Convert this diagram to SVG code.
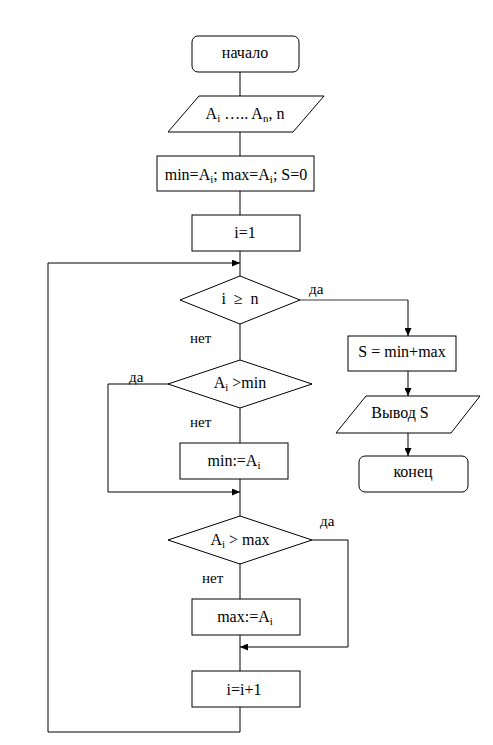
<svg xmlns="http://www.w3.org/2000/svg" width="493" height="745" viewBox="0 0 493 745">
<style>
.s{fill:#fff;stroke:#000;stroke-width:1}
.t{font-family:'Liberation Serif','Times New Roman',serif;font-size:16px;fill:#000;text-anchor:middle}
.l{font-family:'Liberation Serif','Times New Roman',serif;font-size:15px;fill:#000}
.sub{font-size:11px}
.c{fill:none;stroke:#000;stroke-width:1}
.g{fill:none;stroke:#7a7a7a;stroke-width:1.4}
</style>
<defs>
<marker id="ar" markerWidth="9" markerHeight="7" refX="8" refY="3.5" orient="auto" markerUnits="userSpaceOnUse">
<path d="M0,0 L8,3.5 L0,7 z" fill="#000"/>
</marker>
</defs>
<rect width="493" height="745" fill="#fff"/>
<g font-family="'Liberation Serif', 'Times New Roman', serif">
<g id="connectors">
<path class="c" d="M240,72 V96"/>
<path class="c" d="M240,132 V156"/>
<path class="c" d="M240,191 V215"/>
<path class="c" d="M240,251 V276"/>
<path class="c" d="M240,324 V360"/>
<path class="c" d="M240,408 V443"/>
<path class="c" d="M240,479 V516"/>
<path class="c" d="M240,563 V599"/>
<path class="c" d="M240,635 V671"/>
<path class="c" d="M240,707 V732 H48 V263 H240" marker-end="url(#ar)"/>
<path class="g" d="M300,300 H408"/>
<path class="c" d="M408,300 V336" marker-end="url(#ar)"/>
<path class="c" d="M408,371 V396" marker-end="url(#ar)"/>
<path class="c" d="M408,433 V456" marker-end="url(#ar)"/>
<path class="c" d="M168,384 H108 V492 H240" marker-end="url(#ar)"/>
<path class="c" d="M312,540 H348 V647 H240" marker-end="url(#ar)"/>
</g>
<g id="start">
<rect class="s" x="192" y="36" width="107" height="36" rx="6"/>
<text class="t" x="245" y="58">начало</text>
</g>
<g id="input">
<polygon class="s" points="199,96 324,96 293,132 168,132"/>
<text class="t" x="245" y="119">A<tspan class="sub" dy="3">i</tspan><tspan dy="-3"> ….. A</tspan><tspan class="sub" dy="3">n</tspan><tspan dy="-3">, n</tspan></text>
</g>
<g id="init">
<rect class="s" x="157" y="156" width="157" height="35"/>
<text class="t" x="236" y="180">min=A<tspan class="sub" dy="3">i</tspan><tspan dy="-3">; max=A</tspan><tspan class="sub" dy="3">i</tspan><tspan dy="-3">; S=0</tspan></text>
</g>
<g id="i1">
<rect class="s" x="192" y="215" width="108" height="36"/>
<text class="t" x="245" y="238">i=1</text>
</g>
<g id="cond1">
<polygon class="s" points="240,276 300,300 240,324 180,300"/>
<text class="t" x="240" y="304" xml:space="preserve">i  ≥  n</text>
<text class="l" x="309" y="294">да</text>
<text class="l" x="190" y="343">нет</text>
</g>
<g id="cond2">
<polygon class="s" points="240,360 312,384 240,408 168,384"/>
<text class="t" x="240" y="388">A<tspan class="sub" dy="3">i</tspan><tspan dy="-3"> &gt;min</tspan></text>
<text class="l" x="129" y="382">да</text>
<text class="l" x="190" y="427">нет</text>
</g>
<g id="setmin">
<rect class="s" x="180" y="443" width="108" height="36"/>
<text class="t" x="234" y="466">min:=A<tspan class="sub" dy="3">i</tspan></text>
</g>
<g id="cond3">
<polygon class="s" points="240,516 312,540 240,564 168,540"/>
<text class="t" x="240" y="545">A<tspan class="sub" dy="3">i</tspan><tspan dy="-3"> &gt; max</tspan></text>
<text class="l" x="320" y="526">да</text>
<text class="l" x="202" y="583">нет</text>
</g>
<g id="setmax">
<rect class="s" x="192" y="599" width="108" height="36"/>
<text class="t" x="245" y="622">max:=A<tspan class="sub" dy="3">i</tspan></text>
</g>
<g id="inc">
<rect class="s" x="192" y="671" width="108" height="36"/>
<text class="t" x="244" y="695">i=i+1</text>
</g>
<g id="sum">
<rect class="s" x="348" y="336" width="108" height="35"/>
<text class="t" x="402" y="357">S = min+max</text>
</g>
<g id="output">
<polygon class="s" points="366,396 480,396 451,433 336,433"/>
<text class="t" x="400" y="418">Вывод S</text>
</g>
<g id="end">
<rect class="s" x="359" y="456" width="109" height="36" rx="6"/>
<text class="t" x="413" y="477">конец</text>
</g>
</g>
</svg>
